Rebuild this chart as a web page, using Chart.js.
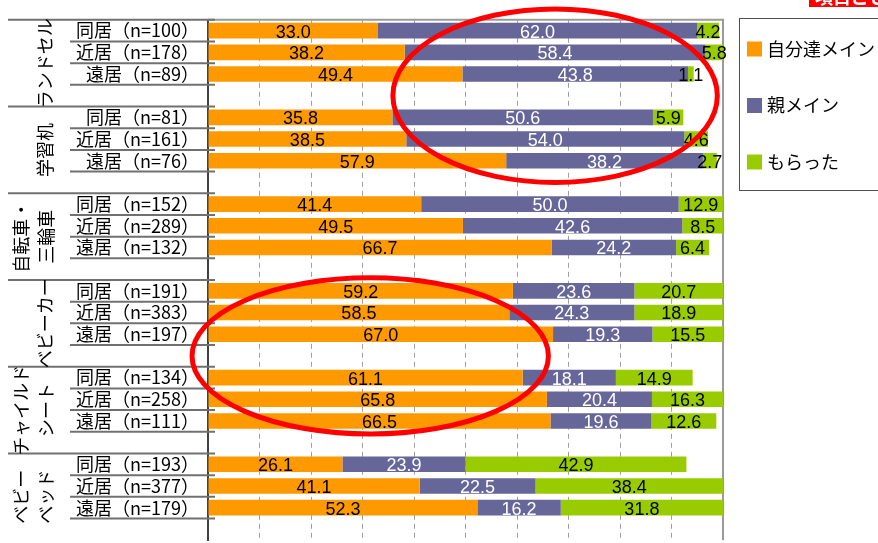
<!DOCTYPE html>
<html lang="ja">
<head>
<meta charset="utf-8">
<script src="https://cdn.jsdelivr.net/npm/chart.js@4/dist/chart.umd.min.js"></script>
<style>
  html, body { margin: 0; padding: 0; background: #fff; overflow: hidden; }
  #wrap { width: 878px; height: 543px; overflow: hidden; position: relative; }
  #c { display: block; }
</style>
</head>
<body>
<div id="wrap"><canvas id="c" width="878" height="560"></canvas></div>
<script>
// Item groups (multi-line names are written rotated, one column per line)
const groupNames = [
  ['ランドセル'],
  ['学習机'],
  ['自転車・', '三輪車'],
  ['ベビーカー'],
  ['チャイルド', 'シート'],
  ['ベビー', 'ベッド']
];

// Row labels: living arrangement and sample size
const rowLabels = [
  '同居（n=100）', '近居（n=178）', '遠居（n=89）',
  '同居（n=81）',  '近居（n=161）', '遠居（n=76）',
  '同居（n=152）', '近居（n=289）', '遠居（n=132）',
  '同居（n=191）', '近居（n=383）', '遠居（n=197）',
  '同居（n=134）', '近居（n=258）', '遠居（n=111）',
  '同居（n=193）', '近居（n=377）', '遠居（n=179）'
];

// Series values (%)
const selfMain = [
  33.0, 38.2, 49.4,
  35.8, 38.5, 57.9,
  41.4, 49.5, 66.7,
  59.2, 58.5, 67.0,
  61.1, 65.8, 66.5,
  26.1, 41.1, 52.3
];
const parentMain = [
  62.0, 58.4, 43.8,
  50.6, 54.0, 38.2,
  50.0, 42.6, 24.2,
  23.6, 24.3, 19.3,
  18.1, 20.4, 19.6,
  23.9, 22.5, 16.2
];
const received = [
  4.2, 5.8, 1.1,
  5.9, 4.6, 2.7,
  12.9, 8.5, 6.4,
  20.7, 18.9, 15.5,
  14.9, 16.3, 12.6,
  42.9, 38.4, 31.8
];

const seriesNames = ['自分達メイン', '親メイン', 'もらった'];
const seriesColors = ['#FF9900', '#666699', '#99CC00'];
const valueColors = ['#000000', '#FFFFFF', '#000000'];

const ROWS_PER_GROUP = 3;
const SLOTS_PER_GROUP = ROWS_PER_GROUP + 1; // three rows plus a spacer row

// Insert an empty spacer slot after every group
function withSpacers(values, filler) {
  const out = [];
  values.forEach((v, i) => {
    out.push(v);
    if (i % ROWS_PER_GROUP === ROWS_PER_GROUP - 1) out.push(filler);
  });
  return out;
}

const categories = withSpacers(rowLabels, '');
const seriesValues = [selfMain, parentMain, received];

const JP_FONT = "'Noto Sans CJK JP', 'Noto Sans', sans-serif";
const NUM_FONT = "'Liberation Sans', Arial, sans-serif";

// Frame, category dividers, rotated group names, value labels, legend, rings
const decorations = {
  id: 'decorations',
  beforeDatasetsDraw(chart) {
    const { ctx, chartArea: a, scales: { y } } = chart;
    const slot = (y.getPixelForValue(1) - y.getPixelForValue(0));
    ctx.save();
    // plot frame (top and right)
    ctx.strokeStyle = '#9A9A9A';
    ctx.lineWidth = 2;
    ctx.beginPath();
    ctx.moveTo(a.left, a.top);
    ctx.lineTo(a.right, a.top);
    ctx.lineTo(a.right, a.bottom);
    ctx.stroke();

    // category dividers
    ctx.strokeStyle = '#707070';
    ctx.lineWidth = 2;
    for (let s = 0; s < categories.length; s++) {
      const yTop = y.getPixelForValue(s) - slot / 2;
      const isGroupStart = s % SLOTS_PER_GROUP === 0;
      const isInner = s % SLOTS_PER_GROUP !== 0;
      if (isGroupStart) {
        ctx.beginPath();
        ctx.moveTo(8, yTop);
        ctx.lineTo(a.left + 7, yTop);
        ctx.stroke();
      }
      if (isInner) {
        ctx.beginPath();
        ctx.moveTo(70, yTop);
        ctx.lineTo(a.left + 7, yTop);
        ctx.stroke();
      }
    }

    // group names, rotated
    ctx.fillStyle = '#000';
    ctx.font = '18px ' + JP_FONT;
    ctx.textAlign = 'center';
    ctx.textBaseline = 'middle';
    groupNames.forEach((lines, g) => {
      const first = g * SLOTS_PER_GROUP;
      const cy = (y.getPixelForValue(first) + y.getPixelForValue(first + SLOTS_PER_GROUP - 1)) / 2 - 0;
      const xs = lines.length === 1 ? [45] : [21, 46];
      lines.forEach((txt, k) => {
        ctx.save();
        ctx.translate(xs[k], cy);
        ctx.rotate(-Math.PI / 2);
        ctx.fillText(txt, 0, 0);
        ctx.restore();
      });
    });
    ctx.restore();
  },
  afterDatasetsDraw(chart) {
    const { ctx, chartArea: a } = chart;
    ctx.save();
    ctx.font = '18px ' + NUM_FONT;
    ctx.textAlign = 'center';
    ctx.textBaseline = 'middle';
    chart.data.datasets.forEach((ds, di) => {
      const meta = chart.getDatasetMeta(di);
      ctx.fillStyle = valueColors[di];
      meta.data.forEach((bar, i) => {
        const v = ds.data[i];
        if (v === null || v === undefined) return;
        const l = Math.max(Math.min(bar.base, bar.x), a.left);
        const r = Math.min(Math.max(bar.base, bar.x), a.right);
        if (r <= l) return;
        ctx.fillText(v.toFixed(1), (l + r) / 2, bar.y + 2);
      });
    });
    ctx.restore();
  },
  afterDraw(chart) {
    const { ctx, scales: { x, y } } = chart;
    const slot = (y.getPixelForValue(1) - y.getPixelForValue(0));
    ctx.save();

    // legend
    ctx.strokeStyle = '#505050';
    ctx.lineWidth = 1;
    ctx.strokeRect(739.5, 18.5, 200, 172);
    ctx.font = '18px ' + JP_FONT;
    ctx.textAlign = 'left';
    ctx.textBaseline = 'middle';
    chart.data.datasets.forEach((ds, di) => {
      const cy = 49 + di * 56.5;
      ctx.fillStyle = ds.backgroundColor;
      ctx.fillRect(747, cy - 7.5, 15, 15);
      ctx.fillStyle = '#000';
      ctx.fillText(ds.label, 767, cy);
    });

    // red tag at the top edge
    ctx.fillStyle = '#FF0000';
    ctx.fillRect(809, 0, 80, 7);
    ctx.fillStyle = '#FFFFFF';
    ctx.font = 'bold 18px ' + JP_FONT;
    ctx.textBaseline = 'alphabetic';
    ctx.fillText('項目ごと', 815, 3.5);

    // highlight rings
    const rings = [
      { cx: 67.4, row: 3, rx: 31.5, ry: 4.0 },
      { cx: 31.5, row: 15, rx: 34.6, ry: 3.6 }
    ];
    ctx.strokeStyle = '#FF0000';
    ctx.lineWidth = 5;
    rings.forEach(r => {
      const px = x.getPixelForValue(r.cx);
      const pr = x.getPixelForValue(r.cx + r.rx) - px;
      const py = y.getPixelForValue(r.row);
      ctx.beginPath();
      ctx.ellipse(px, py, pr, r.ry * slot, 0, 0, Math.PI * 2);
      ctx.stroke();
    });
    ctx.restore();
  }
};

new Chart(document.getElementById('c'), {
  type: 'bar',
  data: {
    labels: categories,
    datasets: seriesValues.map((vals, i) => ({
      label: seriesNames[i],
      data: withSpacers(vals, null),
      backgroundColor: seriesColors[i],
      borderWidth: 0,
      barPercentage: 0.72,
      categoryPercentage: 1.0
    }))
  },
  options: {
    indexAxis: 'y',
    responsive: false,
    animation: false,
    devicePixelRatio: 1,
    layout: { padding: { top: 15, right: 155, bottom: 8, left: 0 } },
    plugins: {
      legend: { display: false },
      tooltip: { enabled: false }
    },
    scales: {
      x: {
        stacked: true,
        min: 0,
        max: 100,
        ticks: { display: false, stepSize: 10 },
        grid: {
          drawTicks: false,
          lineWidth: 1,
          color: c => (c.tick && (c.tick.value === 0 || c.tick.value === 100)) ? 'rgba(0,0,0,0)' : '#A0A0A0'
        },
        border: { display: false, dash: [5, 4] },
        afterFit(s) { s.height = 0; }
      },
      y: {
        stacked: true,
        grid: { display: false, drawTicks: false },
        border: { display: true, color: '#404040', width: 2 },
        ticks: {
          autoSkip: false,
          padding: 9,
          color: '#000',
          font: { family: JP_FONT, size: 18 }
        },
        afterFit(s) { s.width = 208; }
      }
    }
  },
  plugins: [decorations]
});
</script>
</body>
</html>
